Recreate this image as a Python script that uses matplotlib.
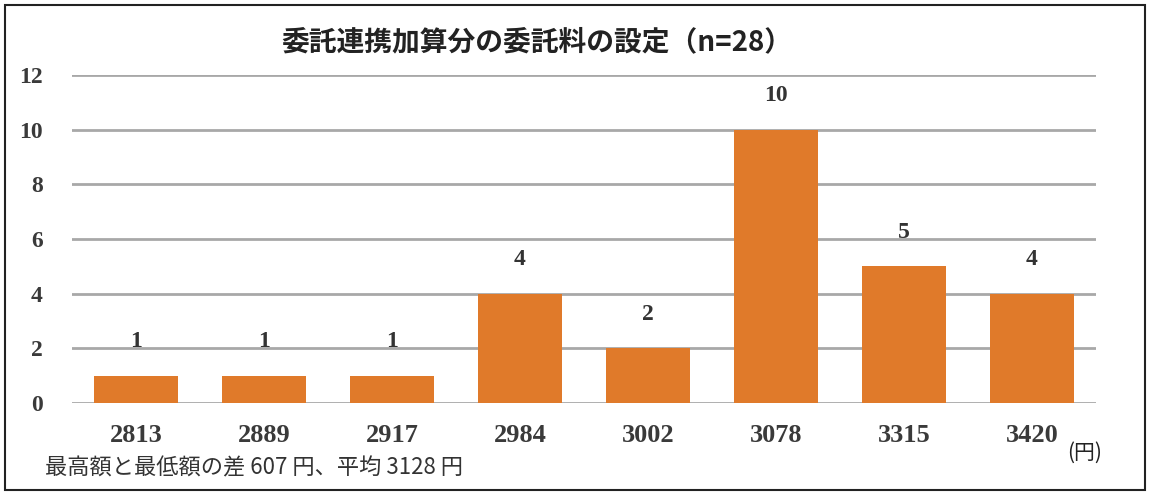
import matplotlib
matplotlib.use("Agg")
import matplotlib.pyplot as plt
from matplotlib.patches import Rectangle

categories = ["2813", "2889", "2917", "2984", "3002", "3078", "3315", "3420"]
counts = [1, 1, 1, 4, 2, 10, 5, 4]
y_ticks = [0, 2, 4, 6, 8, 10, 12]
title = "委託連携加算分の委託料の設定（n=28）"
note = "最高額と最低額の差 607 円、平均 3128 円"
unit = "(円)"

plt.rcParams['font.family'] = ['Noto Sans CJK JP', 'DejaVu Sans']
SERIF = "Liberation Serif"

W, H = 1150, 497
fig = plt.figure(figsize=(W / 100, H / 100), dpi=100)
fig.patch.set_facecolor("white")

# outer frame
fig.add_artist(Rectangle((5 / W, 1 - 490 / H), (1145 - 5) / W, (490 - 5) / H,
                         transform=fig.transFigure, fill=False,
                         edgecolor="#222222", linewidth=1.5))

left, right = 72 / W, 1096 / W
bottom, top = 1 - 403 / H, 1 - 75 / H
ax = fig.add_axes([left, bottom, right - left, top - bottom])

x = list(range(len(categories)))
ax.bar(x, counts, width=0.65, color="#E07A2A", zorder=3)
ax.set_xlim(-0.5, len(categories) - 0.5)
ax.set_ylim(0, 12)
ax.set_yticks(y_ticks)
ax.set_yticklabels([str(v) for v in y_ticks])
ax.set_xticks(x)
ax.set_xticklabels(categories)
for t in ax.get_yticklabels():
    t.set_fontfamily(SERIF)
    t.set_fontweight("bold")
    t.set_fontsize(17)
    t.set_color("#3a3a3a")
for t in ax.get_xticklabels():
    t.set_fontfamily(SERIF)
    t.set_fontweight("bold")
    t.set_fontsize(19)
    t.set_color("#3a3a3a")
ax.tick_params(axis="y", length=0, pad=21)
ax.tick_params(axis="x", length=0, pad=15)
ax.grid(axis="y", color="#A8A8A8", linewidth=2, zorder=1)
for s in ax.spines.values():
    s.set_visible(False)

for xi, c in zip(x, counts):
    ax.annotate(str(c), (xi, c), xytext=(0, 17), textcoords="offset points",
                ha="center", va="bottom", fontfamily=SERIF, fontweight="bold",
                fontsize=17, color="#333333", zorder=4)

fig.text(537 / W, 1 - 42 / H, title, ha="center", va="center",
         fontsize=20, fontweight="bold", color="#222222")
fig.text(45 / W, 1 - 468 / H, note, ha="left", va="center",
         fontsize=16, color="#333333")
fig.text(1085 / W, 1 - 453 / H, unit, ha="center", va="center",
         fontsize=15, color="#222222")

fig.savefig("out.png", dpi=100)
